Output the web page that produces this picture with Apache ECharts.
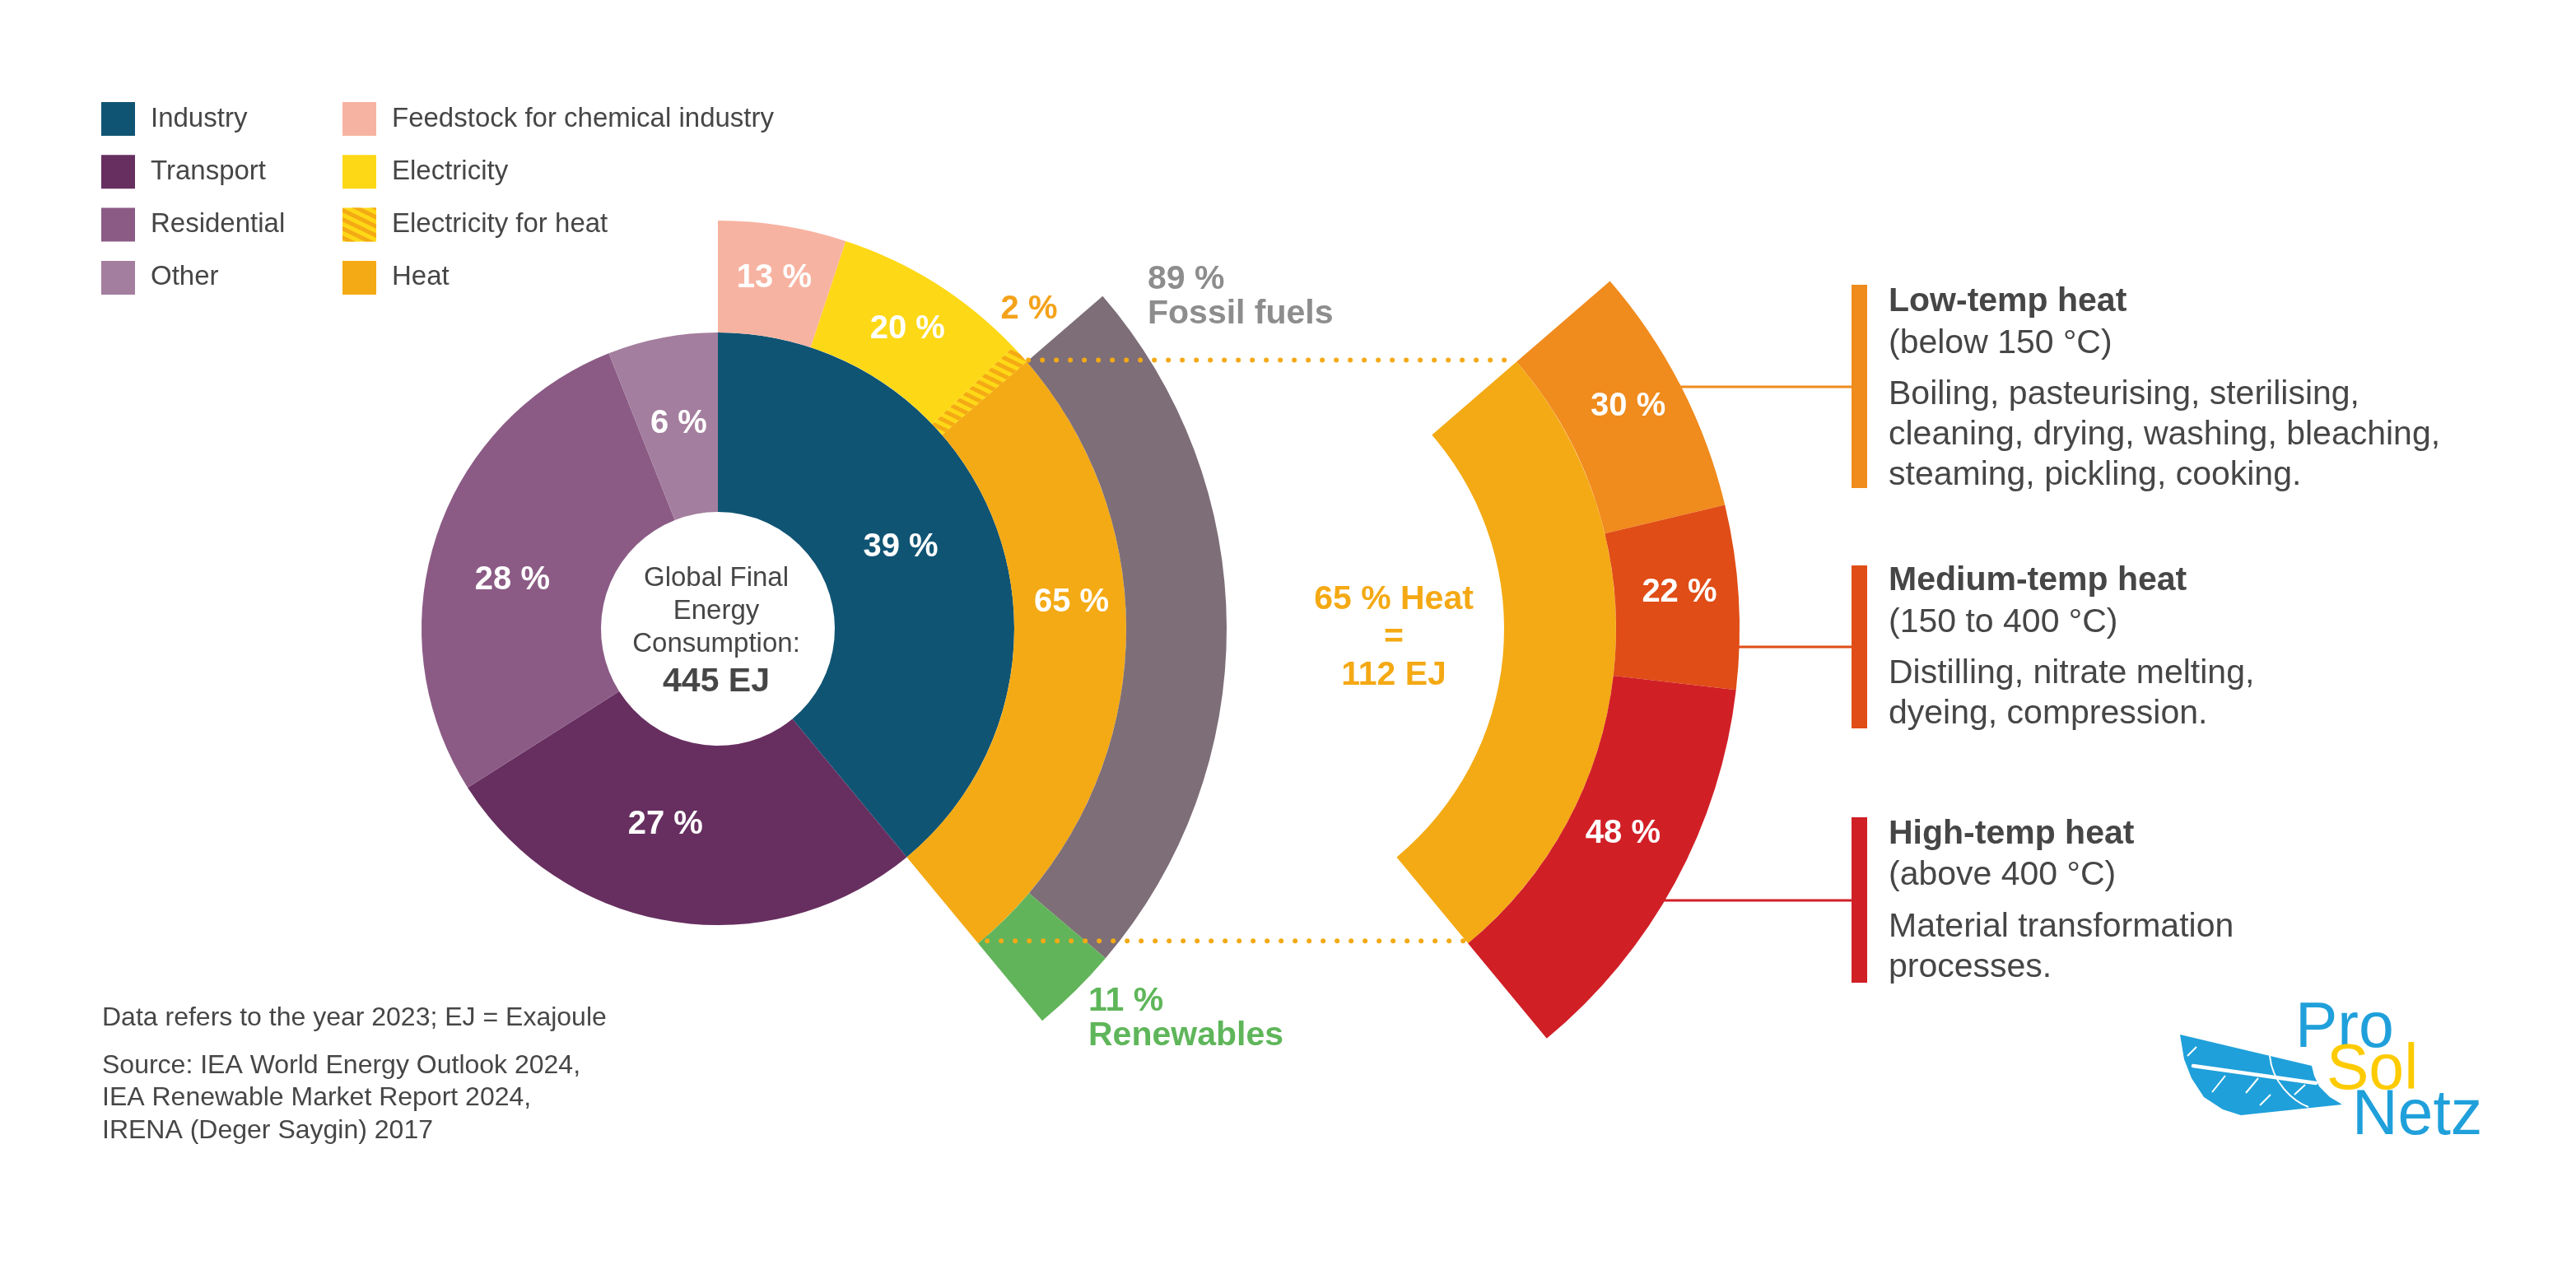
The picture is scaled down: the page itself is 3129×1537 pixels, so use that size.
<!DOCTYPE html>
<html>
<head>
<meta charset="utf-8">
<script src="https://cdn.jsdelivr.net/npm/echarts@6/dist/echarts.min.js"></script>
<style>html,body{margin:0;padding:0;background:#fff;}</style>
</head>
<body>
<div id="main" style="width:3129px;height:1537px;"></div>
<script type="text/javascript">
// global final energy consumption by sector (%)
var sectorNames = ['Industry', 'Transport', 'Residential', 'Other'];
var sectorShares = [39, 27, 28, 6];
// use of energy in industry (%)
var industryNames = ['Feedstock for chemical industry', 'Electricity', 'Electricity for heat', 'Heat'];
var industryShares = [13, 20, 2, 65];
// where industrial heat comes from (%)
var sourceNames = ['Fossil fuels', 'Renewables'];
var sourceShares = [89, 11];
// industrial heat by temperature level (%)
var tempNames = ['Low-temp heat', 'Medium-temp heat', 'High-temp heat'];
var tempShares = [30, 22, 48];
var tempRanges = ['(below 150 °C)', '(150 to 400 °C)', '(above 400 °C)'];
var tempUses = [
    'Boiling, pasteurising, sterilising,\ncleaning, drying, washing, bleaching,\nsteaming, pickling, cooking.',
    'Distilling, nitrate melting,\ndyeing, compression.',
    'Material transformation\nprocesses.'
];
var totalEJ = 445;
var heatEJ = 112;
var notes = 'Data refers to the year 2023; EJ = Exajoule';
var sources = 'Source: IEA World Energy Outlook 2024,\nIEA Renewable Market Report 2024,\nIRENA (Deger Saygin) 2017';

var FONT = '"Liberation Sans", Arial, sans-serif';
var TXT = '#464646';
var sectorColors = ['#105474', '#672f60', '#8b5b85', '#a47e9e'];
var industryColors = ['#f7b3a1', '#fdd816', '#fdd816', '#f4aa14'];
var sourceColors = ['#7e6e77', '#62b45a'];
var tempColors = ['#f08b1d', '#e04d16', '#d11f26'];

// geometry
var CL = [872, 764];   // left chart centre
var CR = [1467, 764];  // right chart centre
var R0 = 142, R1 = 360, R2 = 496, R3 = 618, R4 = 646;

// angles (compass degrees, clockwise from 12 o'clock) derived from the shares
var industrySpan = sectorShares[0] / 100 * 360;
var heatFrom = (industryShares[0] + industryShares[1] + industryShares[2]) / 100 * industrySpan;
var heatTo = industrySpan;

function pt(c, r, deg) {
    var a = deg * Math.PI / 180;
    return [c[0] + r * Math.sin(a), c[1] - r * Math.cos(a)];
}

function items(names, values, colors, extra) {
    return names.map(function (n, i) {
        var d = { name: n, value: values[i], itemStyle: { color: colors[i] } };
        if (extra && extra[i]) {
            for (var k in extra[i]) d[k] = extra[i][k];
        }
        return d;
    });
}

var pctLabel = {
    show: true, position: 'inside', formatter: '{c} %',
    color: '#fff', fontSize: 40, fontWeight: 'bold', fontFamily: FONT
};

var base = {
    type: 'pie', silent: true, animation: false,
    emphasis: { disabled: true },
    itemStyle: { borderWidth: 0 },
    labelLine: { show: false }
};
function pie(o) {
    var s = {};
    for (var k in base) s[k] = base[k];
    for (var k2 in o) s[k2] = o[k2];
    return s;
}

var hatch = {
    symbol: 'rect', symbolSize: 1, dashArrayX: [1, 0], dashArrayY: [5, 5],
    rotation: Math.PI / 7, color: '#f4aa14'
};

var myChart = echarts.init(document.getElementById('main'));

// dotted leader lines between the two charts
var topA = pt(CL, R2, heatFrom), topB = pt(CR, R2, heatFrom);
var botA = pt(CL, R2, heatTo), botB = pt(CR, R2, heatTo);
var dotStyle = { stroke: '#f4a914', lineWidth: 6, lineCap: 'round', lineDash: [0, 17] };

var graphics = [
    { type: 'line', z: 100, shape: { x1: topA[0] + 2, y1: topA[1] - 2, x2: topB[0] - 14, y2: topA[1] - 2 }, style: dotStyle },
    { type: 'line', z: 100, shape: { x1: botA[0] + 11, y1: botA[1] - 3, x2: botB[0] - 5, y2: botA[1] - 3 }, style: dotStyle },
    // centre text
    { type: 'text', z: 100, style: { text: 'Global Final\nEnergy\nConsumption:', x: 870, y: 743, align: 'center', verticalAlign: 'middle', textAlign: 'center', textVerticalAlign: 'middle', font: '33px ' + FONT, lineHeight: 40, fill: TXT } },
    { type: 'text', z: 100, style: { text: totalEJ + ' EJ', x: 870, y: 829, align: 'center', verticalAlign: 'middle', textAlign: 'center', textVerticalAlign: 'middle', font: 'bold 41px ' + FONT, fill: TXT } },
    // notes
    { type: 'text', style: { text: notes, x: 124, y: 1237, verticalAlign: 'middle', textVerticalAlign: 'middle', font: '32px ' + FONT, fill: TXT } },
    { type: 'text', style: { text: sources, x: 124, y: 1275, verticalAlign: 'top', textVerticalAlign: 'top', font: '32px ' + FONT, lineHeight: 39.5, fill: TXT } }
];

// right-hand explanation blocks
var headerY = [367, 706, 1013.5];
var barTop = [346, 687, 993];
var barBottom = [593, 885, 1194];
var linkY = [470, 786, 1094];
for (var i = 0; i < 3; i++) {
    var dy = linkY[i] - CR[1];
    var x0 = CR[0] + Math.sqrt(R4 * R4 - dy * dy);
    graphics.push(
        { type: 'line', shape: { x1: x0 - 2, y1: linkY[i], x2: 2250, y2: linkY[i] }, style: { stroke: tempColors[i], lineWidth: 3 } },
        { type: 'rect', shape: { x: 2249, y: barTop[i], width: 19, height: barBottom[i] - barTop[i] }, style: { fill: tempColors[i] } },
        { type: 'text', style: { text: tempNames[i], x: 2294, y: headerY[i], verticalAlign: 'middle', textVerticalAlign: 'middle', font: 'bold 41px ' + FONT, fill: TXT } },
        { type: 'text', style: { text: tempRanges[i], x: 2294, y: headerY[i] + 50.5, verticalAlign: 'middle', textVerticalAlign: 'middle', font: '41px ' + FONT, fill: TXT } },
        { type: 'text', style: { text: tempUses[i], x: 2294, y: headerY[i] + 113 - 24.5, verticalAlign: 'top', textVerticalAlign: 'top', font: '41px ' + FONT, lineHeight: 49, fill: TXT } }
    );
}

// logo
graphics.push(
    { type: 'polygon', shape: { points: [[2648, 1257], [2808, 1295], [2811, 1307], [2817, 1320], [2830, 1333], [2845, 1342], [2722, 1355], [2700, 1348], [2677, 1333], [2662, 1310], [2653, 1287]] }, style: { fill: '#1fa0da' } },
    { type: 'line', shape: { x1: 2664, y1: 1295, x2: 2813, y2: 1316 }, style: { stroke: '#fff', lineWidth: 4.5, lineCap: 'round' } },
    { type: 'bezierCurve', shape: { x1: 2757, y1: 1283, x2: 2804, y2: 1345, cpx1: 2760, cpy1: 1315, cpx2: 2785, cpy2: 1338 }, style: { stroke: '#fff', lineWidth: 2, fill: null } },
    { type: 'line', shape: { x1: 2687, y1: 1327, x2: 2703, y2: 1307 }, style: { stroke: '#fff', lineWidth: 2 } },
    { type: 'line', shape: { x1: 2728, y1: 1328, x2: 2743, y2: 1310 }, style: { stroke: '#fff', lineWidth: 2 } },
    { type: 'line', shape: { x1: 2787, y1: 1330, x2: 2800, y2: 1318 }, style: { stroke: '#fff', lineWidth: 2 } },
    { type: 'line', shape: { x1: 2657, y1: 1283, x2: 2668, y2: 1272 }, style: { stroke: '#fff', lineWidth: 2 } },
    { type: 'line', shape: { x1: 2745, y1: 1343, x2: 2758, y2: 1330 }, style: { stroke: '#fff', lineWidth: 2 } },
    { type: 'text', style: { text: 'Pro', x: 2788, y: 1251, verticalAlign: 'middle', textVerticalAlign: 'middle', font: '77px ' + FONT, fill: '#1fa0da' } },
    { type: 'text', style: { text: 'Sol', x: 2826, y: 1302, verticalAlign: 'middle', textVerticalAlign: 'middle', font: '77px ' + FONT, fill: '#fdcb00' } },
    { type: 'text', style: { text: 'Netz', x: 2857, y: 1357, verticalAlign: 'middle', textVerticalAlign: 'middle', font: '77px ' + FONT, fill: '#1fa0da' } }
);

var legendBase = {
    orient: 'vertical', top: 124, padding: 0, itemWidth: 41, itemHeight: 41, itemGap: 23.3,
    icon: 'rect', selectedMode: false,
    textStyle: { fontSize: 33, color: TXT, fontFamily: FONT, padding: [0, 0, 0, 14] }
};
function legend(data, left) {
    var l = {};
    for (var k in legendBase) l[k] = legendBase[k];
    l.data = data;
    l.left = left;
    return l;
}

var option = {
    backgroundColor: '#fff',
    animation: false,
    legend: [legend(sectorNames, 123), legend(industryNames, 416)],
    graphic: { elements: graphics },
    series: [
        pie({
            name: 'sectors', center: CL, radius: [R0, R1], startAngle: 90,
            label: pctLabel,
            labelLayout: function (p) {
                if (p.dataIndex === 0) return { dx: -17, dy: -13 };
                if (p.dataIndex === 1) return { dx: -24, dy: -13 };
                if (p.dataIndex === 2) return { dx: -8, dy: 19 };
            },
            data: items(sectorNames, sectorShares, sectorColors)
        }),
        pie({
            name: 'industry use', center: CL, radius: [R1, R2],
            startAngle: 90, endAngle: 90 - industrySpan,
            label: pctLabel,
            labelLayout: function (p) {
                if (p.dataIndex === 2) return { x: 1250, y: 376, align: 'center', verticalAlign: 'middle' };
                if (p.dataIndex === 3) return { dy: -68 };
            },
            data: items(industryNames, industryShares, industryColors, [null, null,
                { itemStyle: { color: industryColors[2], decal: hatch }, label: { color: '#f4a21a' } }, null])
        }),
        pie({
            name: 'heat source', center: CL, radius: [R2, R3],
            startAngle: 90 - heatFrom, endAngle: 90 - heatTo,
            label: {
                show: true, position: 'inside', formatter: '{c} %\n{b}',
                fontSize: 41, fontWeight: 'bold', fontFamily: FONT, lineHeight: 42, align: 'left'
            },
            labelLayout: function (p) {
                if (p.dataIndex === 0) return { x: 1394, y: 361, align: 'left', verticalAlign: 'middle' };
                return { x: 1322, y: 1238, align: 'left', verticalAlign: 'middle' };
            },
            data: items(sourceNames, sourceShares, sourceColors, [
                { label: { color: '#8d8d8d' } }, { label: { color: '#5fb65a' } }])
        }),
        pie({
            name: 'heat detail', center: CR, radius: [R1, R2],
            startAngle: 90 - heatFrom, endAngle: 90 - heatTo,
            label: {
                show: true, position: 'inside',
                formatter: function (p) { return p.value + ' % Heat\n=\n' + heatEJ + ' EJ'; },
                color: '#f4a914', fontSize: 41, fontWeight: 'bold', fontFamily: FONT, lineHeight: 46
            },
            labelLayout: function () {
                return { x: 1693, y: 775, align: 'center', verticalAlign: 'middle' };
            },
            data: [{ name: 'Heat', value: industryShares[3], itemStyle: { color: industryColors[3] } }]
        }),
        pie({
            name: 'heat temperature', center: CR, radius: [R2, R4],
            startAngle: 90 - heatFrom, endAngle: 90 - heatTo,
            label: pctLabel,
            labelLayout: function (p) {
                if (p.dataIndex === 0) return { dy: -8 };
                if (p.dataIndex === 1) return { dy: -10 };
                if (p.dataIndex === 2) return { dy: -25 };
            },
            data: items(tempNames, tempShares, tempColors)
        })
    ]
};

myChart.setOption(option);
</script>
</body>
</html>
